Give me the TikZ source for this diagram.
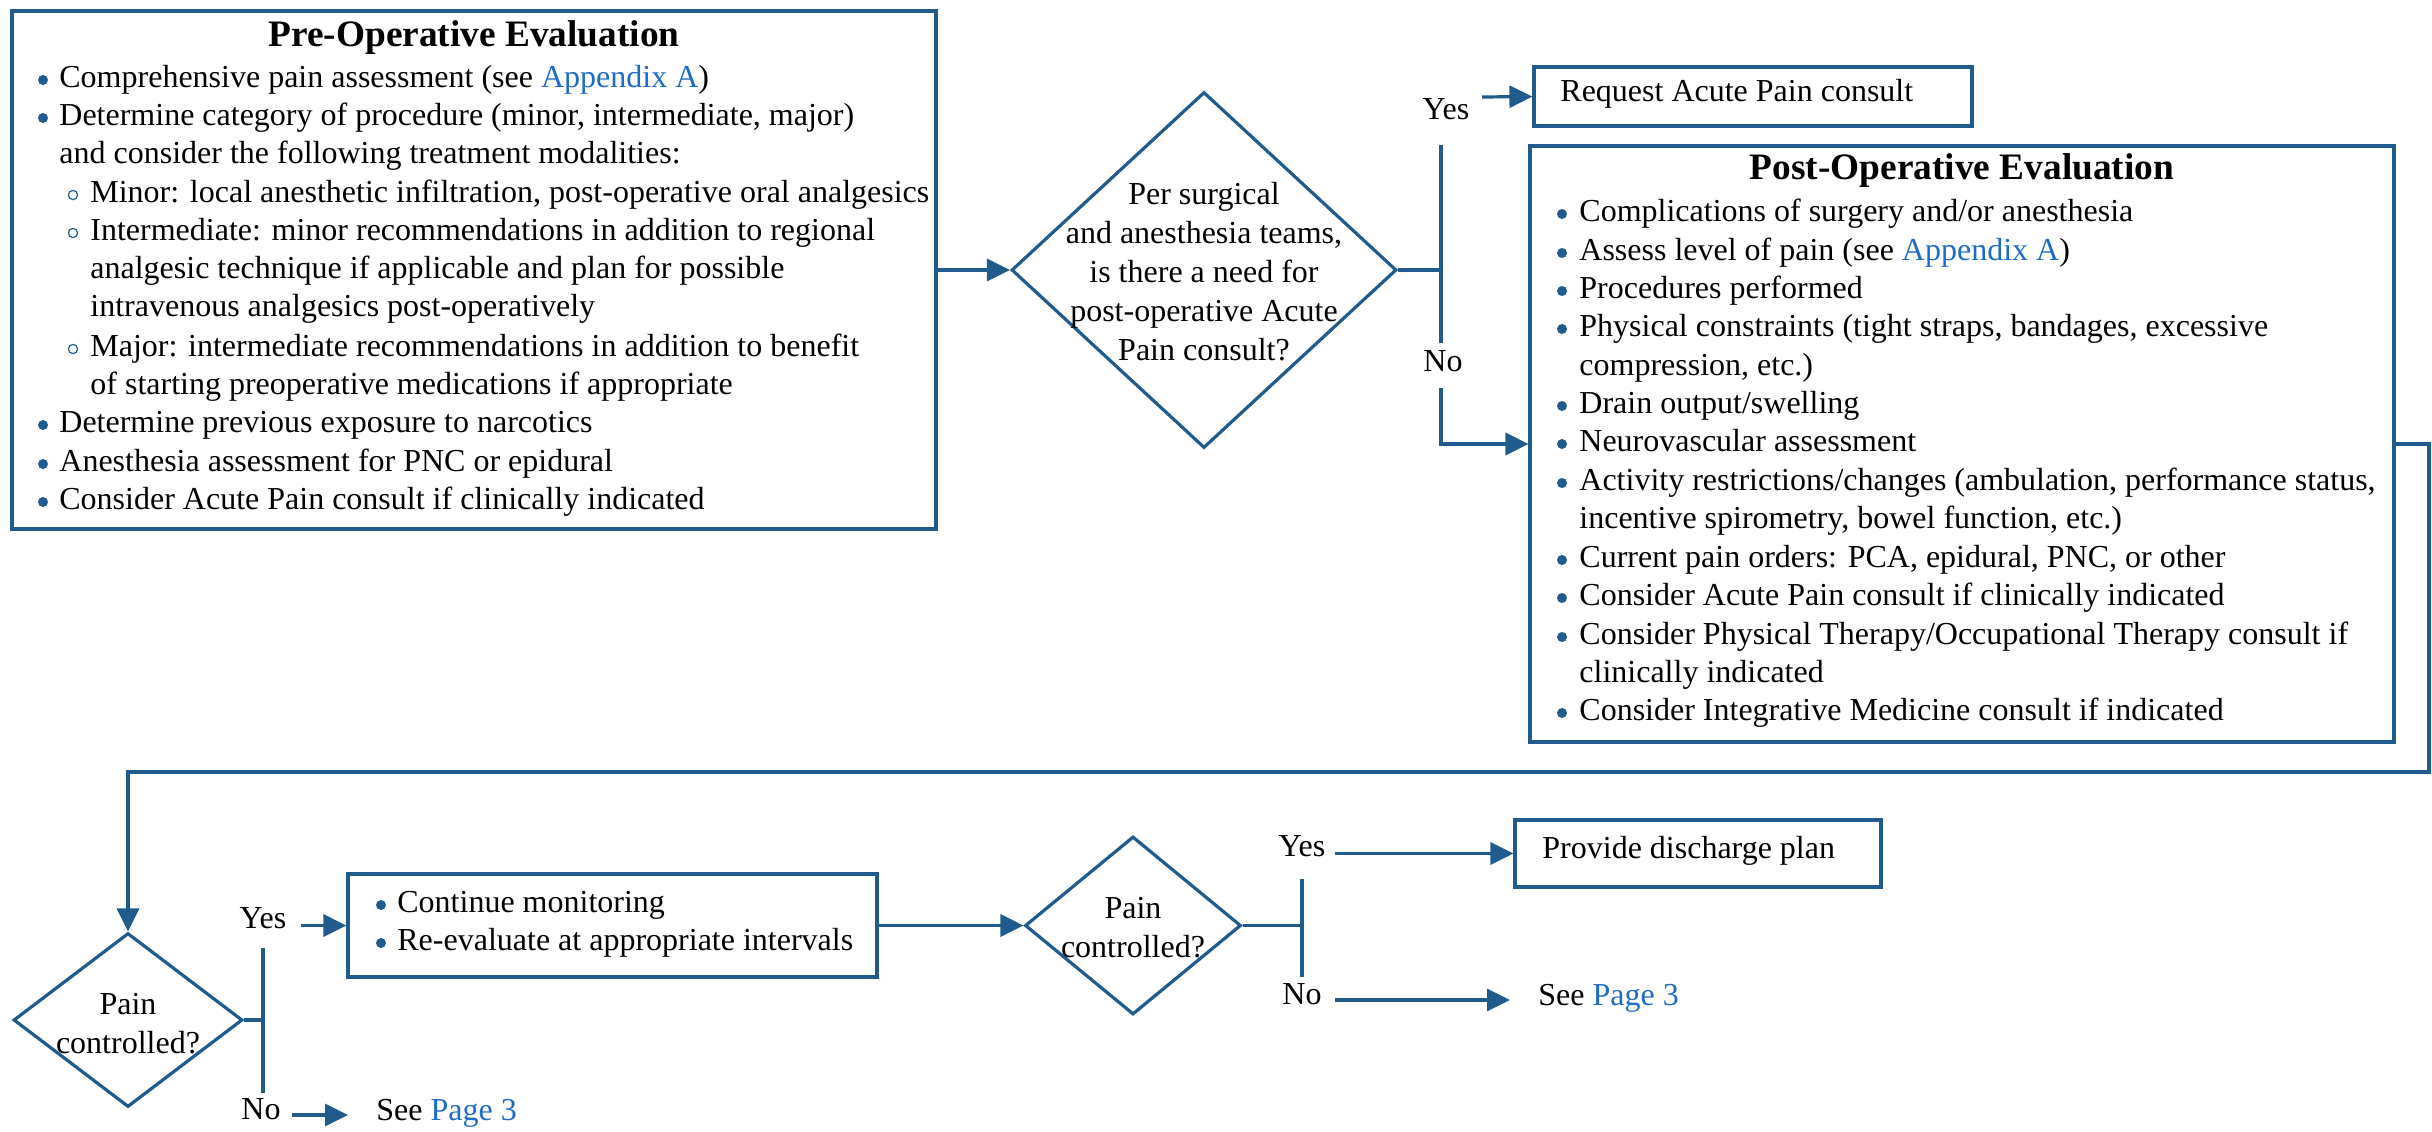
\documentclass[tikz,border=0pt]{standalone}
\usepackage{fontspec}
\setmainfont{Liberation Serif}
\usetikzlibrary{arrows.meta,shapes.geometric}
\definecolor{lc}{HTML}{1F5B8C}
\definecolor{link}{HTML}{1E6CC8}
\newcommand{\lnk}[1]{\textcolor{link}{#1}}
\begin{document}
\begin{tikzpicture}[x=0.5pt,y=-0.5pt,
  box/.style={draw=lc,line width=1.6pt,rectangle,inner sep=0pt},
  dia/.style={draw=lc,line width=1.6pt,diamond,inner sep=0pt},
  conn/.style={draw=lc,line width=1.6pt},
  arr/.style={conn,-{Triangle[length=11.5pt,width=11pt]}},
  txt/.style={inner sep=0pt,anchor=mid west,font=\fontsize{16}{19.5}\selectfont},
  ttl/.style={inner sep=0pt,anchor=mid,font=\fontsize{18.67}{22}\selectfont\bfseries},
  ctr/.style={inner sep=0pt,align=center,font=\fontsize{16}{19.5}\selectfont},
  lbl/.style={inner sep=0pt,anchor=mid,font=\fontsize{16}{19.5}\selectfont},
  bul/.style={fill=lc},
  sbul/.style={draw=lc,line width=0.6pt}
]
\useasboundingbox (0,0) rectangle (2432,1131);

% ---------- Pre-operative box ----------
\node[box,minimum width=462pt,minimum height=259pt] (pre) at (474,270) {};
\node[ttl] (preT) at (474,42) {Pre-Operative Evaluation};
\foreach \y in {83,121,428,467,505} \fill[bul] (43,\y-3) circle (2.5pt);
\foreach \y in {198,236,352} \draw[sbul] (73,\y-3) circle (2.3pt);
\node[txt] (pre1) at (59,83) {Comprehensive pain assessment (see \lnk{Appendix A})};
\node[txt] (pre2) at (59,121) {Determine category of procedure (minor, intermediate, major)};
\node[txt] (pre3) at (59,159) {and consider the following treatment modalities:};
\node[txt] (pre4) at (90,198) {Minor: local anesthetic infiltration, post-operative oral analgesics};
\node[txt] (pre5) at (90,236) {Intermediate: minor recommendations in addition to regional};
\node[txt] (pre6) at (90,274) {analgesic technique if applicable and plan for possible};
\node[txt] (pre7) at (90,312) {intravenous analgesics post-operatively};
\node[txt] (pre8) at (90,352) {Major: intermediate recommendations in addition to benefit};
\node[txt] (pre9) at (90,390) {of starting preoperative medications if appropriate};
\node[txt] (pre10) at (59,428) {Determine previous exposure to narcotics};
\node[txt] (pre11) at (59,467) {Anesthesia assessment for PNC or epidural};
\node[txt] (pre12) at (59,505) {Consider Acute Pain consult if clinically indicated};

% ---------- Decision 1 ----------
\node[dia,minimum width=192.5pt,minimum height=178pt] (d1) at (1204,270) {};
\node[ctr] (d1t) at (1204,272) {Per surgical\\and anesthesia teams,\\is there a need for\\post-operative Acute\\Pain consult?};
\draw[arr] (pre.east) -- (d1.west);

% ---------- Request box ----------
\node[box,minimum width=219pt,minimum height=29.5pt] (req) at (1753,96.5) {};
\node[txt] (reqT) at (1560,97) {Request Acute Pain consult};

% ---------- Post-operative box ----------
\node[box,minimum width=432pt,minimum height=298pt] (post) at (1962,444) {};
\node[ttl] (postT) at (1962,175) {Post-Operative Evaluation};
\foreach \y in {217,256,294,332,409,447,486,563,601,640,716} \fill[bul] (1562,\y-3) circle (2.5pt);
\node[txt] (po1) at (1579,217) {Complications of surgery and/or anesthesia};
\node[txt] (po2) at (1579,256) {Assess level of pain (see \lnk{Appendix A})};
\node[txt] (po3) at (1579,294) {Procedures performed};
\node[txt] (po4) at (1579,332) {Physical constraints (tight straps, bandages, excessive};
\node[txt] (po5) at (1579,371) {compression, etc.)};
\node[txt] (po6) at (1579,409) {Drain output/swelling};
\node[txt] (po7) at (1579,447) {Neurovascular assessment};
\node[txt] (po8) at (1579,486) {Activity restrictions/changes (ambulation, performance status,};
\node[txt] (po9) at (1579,524) {incentive spirometry, bowel function, etc.)};
\node[txt] (po10) at (1579,563) {Current pain orders: PCA, epidural, PNC, or other};
\node[txt] (po11) at (1579,601) {Consider Acute Pain consult if clinically indicated};
\node[txt] (po12) at (1579,640) {Consider Physical Therapy/Occupational Therapy consult if};
\node[txt] (po13) at (1579,678) {clinically indicated};
\node[txt] (po14) at (1579,716) {Consider Integrative Medicine consult if indicated};

% ---------- Branch after decision 1 ----------
\coordinate (j1) at (1441,270);
\coordinate (j1t) at (1441,145);
\coordinate (j1b) at (1441,343);
\coordinate (no1a) at (1441,388);
\coordinate (yes1a) at (1482,97);
\draw[conn] (d1.east) -- (j1);
\draw[conn] (j1t) -- (j1b);
\node[lbl] (yes1) at (1446,115) {Yes};
\node[lbl] (no1) at (1443,367) {No};
\draw[arr] (yes1a) -- (req.west);
\draw[arr] (no1a) |- (post.west);

% ---------- Loop back to second row ----------
\coordinate (r1) at (2429,444);
\coordinate (r2) at (2429,772);
\coordinate (r3) at (128,772);
\node[dia,minimum width=114.5pt,minimum height=87pt] (d2) at (128,1020) {};
\node[ctr] (d2t) at (128,1024) {Pain\\controlled?};
\draw[arr] (post.east) -- (r1) -- (r2) -- (r3) -- (d2.north);

% ---------- Decision 2 branches ----------
\coordinate (j2) at (263,1020);
\coordinate (j2t) at (263,948);
\coordinate (j2b) at (263,1093);
\draw[conn] (d2.east) -- (j2);
\draw[conn] (j2t) -- (j2b);
\node[lbl] (yes2) at (263,924) {Yes};
\node[lbl] (no2) at (261,1115) {No};
\node[box,minimum width=264.5pt,minimum height=51.5pt] (cont) at (612.5,925.5) {};
\foreach \y in {908,946} \fill[bul] (381,\y-3) circle (2.5pt);
\node[txt] (c1) at (397,908) {Continue monitoring};
\node[txt] (c2) at (397,946) {Re-evaluate at appropriate intervals};
\coordinate (yes2a) at (301,925.5);
\draw[arr] (yes2a) -- (cont.west);
\coordinate (no2a) at (292,1115);
\coordinate (no2b) at (348,1115);
\draw[arr] (no2a) -- (no2b);
\node[txt] (see1) at (376,1116) {See \lnk{Page 3}};

% ---------- Decision 3 ----------
\node[dia,minimum width=108pt,minimum height=89pt] (d3) at (1133,925.5) {};
\node[ctr] (d3t) at (1133,928) {Pain\\controlled?};
\draw[arr] (cont.east) -- (d3.west);
\coordinate (j3) at (1302,925.5);
\coordinate (j3t) at (1302,879);
\coordinate (j3b) at (1302,977);
\draw[conn] (d3.east) -- (j3);
\draw[conn] (j3t) -- (j3b);
\node[lbl] (yes3) at (1302,852) {Yes};
\node[lbl] (no3) at (1302,1000) {No};
\node[box,minimum width=183pt,minimum height=33.5pt] (prov) at (1698,853.5) {};
\node[txt] (provT) at (1542,854) {Provide discharge plan};
\coordinate (yes3a) at (1335,853.5);
\draw[arr] (yes3a) -- (prov.west);
\coordinate (no3a) at (1335,1000);
\coordinate (no3b) at (1510,1000);
\draw[arr] (no3a) -- (no3b);
\node[txt] (see2) at (1538,1001) {See \lnk{Page 3}};
\end{tikzpicture}
\end{document}
